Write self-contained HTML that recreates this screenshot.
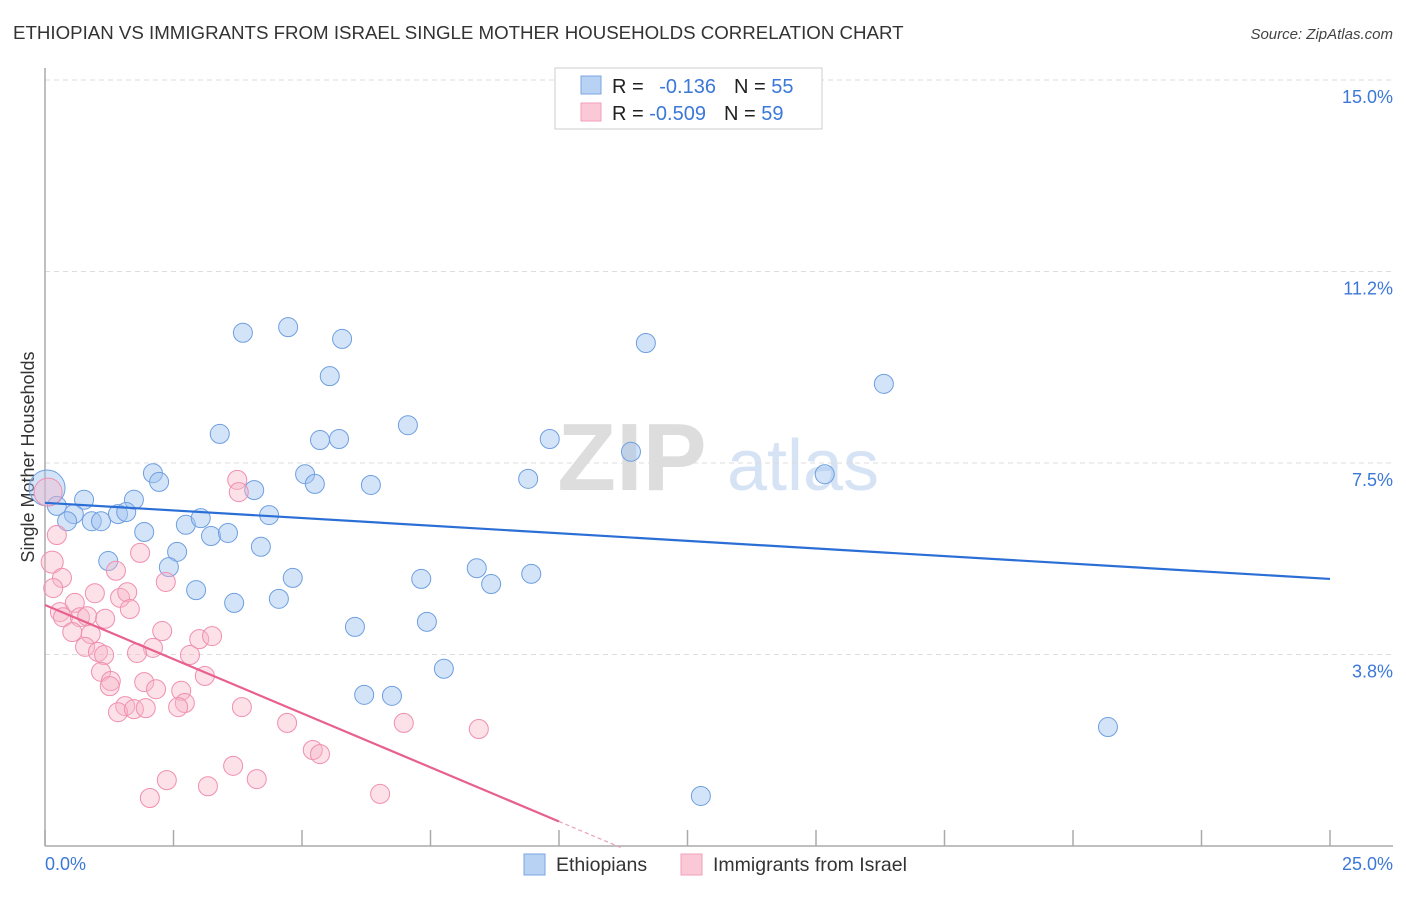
<!DOCTYPE html>
<html><head><meta charset="utf-8"><style>
body{margin:0;background:#fff;font-family:"Liberation Sans",sans-serif;}
svg text{font-family:"Liberation Sans",sans-serif;}
</style></head><body>
<svg id="chart" width="1406" height="892" viewBox="0 0 1406 892" xmlns="http://www.w3.org/2000/svg">
<text x="13" y="39" font-size="18.7" fill="#333">ETHIOPIAN VS IMMIGRANTS FROM ISRAEL SINGLE MOTHER HOUSEHOLDS CORRELATION CHART</text>
<text x="1393" y="39" font-size="15" fill="#444" font-style="italic" text-anchor="end">Source: ZipAtlas.com</text>
<g>
<text x="632" y="490" font-size="96" fill="#ddd" font-family="Liberation Serif" text-anchor="middle" font-weight="bold">ZIP</text>
<text x="803" y="490" font-size="72" fill="#d6e3f5" text-anchor="middle">atlas</text>
</g>
<g id="grid"></g>
<line x1="45" y1="68" x2="45" y2="846" stroke="#aaa" stroke-width="1.5"/>
<line x1="45" y1="846" x2="1393" y2="846" stroke="#aaa" stroke-width="1.5"/>
<g id="ticks"></g>
<text transform="translate(34,457) rotate(-90)" font-size="18" fill="#333" text-anchor="middle">Single Mother Households</text>
<text x="45" y="870" font-size="18" fill="#3b78d8">0.0%</text>
<text x="1393" y="870" font-size="18" fill="#3b78d8" text-anchor="end">25.0%</text>
<g id="pts"></g>
<g id="lines"></g>
<g>
<rect x="555" y="68" width="267" height="61" fill="#fff" stroke="#ccc"/>
<rect x="581" y="76" width="20" height="18" fill="#b8d2f4" stroke="#7aa6e2"/>
<rect x="581" y="103" width="20" height="18" fill="#fac8d6" stroke="#f0a0b8"/>
<text x="612" y="93" font-size="20" fill="#222">R = <tspan fill="#3b78d8" dx="10">-0.136</tspan><tspan dx="18" fill="#222">N = </tspan><tspan fill="#3b78d8">55</tspan></text>
<text x="612" y="120" font-size="20" fill="#222">R = <tspan fill="#3b78d8">-0.509</tspan><tspan dx="18" fill="#222">N = </tspan><tspan fill="#3b78d8">59</tspan></text>
</g>
<g>
<rect x="524" y="854" width="21" height="21" fill="#b8d2f4" stroke="#7aa6e2"/>
<text x="556" y="871" font-size="19.5" fill="#333">Ethiopians</text>
</g>
<g>
<rect x="681" y="854" width="21" height="21" fill="#fac8d6" stroke="#f0a0b8"/>
<text x="713" y="871" font-size="19.5" fill="#333">Immigrants from Israel</text>
</g>
</svg>
<script>
const yTicks=[3.75,7.5,11.25,15];
const yTickLabels=["3.8%","7.5%","11.2%","15.0%"];
const xTicks=[0,2.5,5,7.5,10,12.5,15,17.5,20,22.5,25];
const blueX=[3.85,4.73,5.78,11.69,5.54,16.32,3.40,7.06,5.35,5.72,9.82,11.40,2.10,5.06,2.22,5.25,6.34,9.40,15.17,4.07,0.76,1.73,0.04,0.23,0.56,0.43,0.91,1.09,1.42,1.58,4.36,2.74,3.03,1.93,3.23,3.56,4.20,2.57,1.23,2.41,4.82,7.32,8.40,8.68,9.46,2.94,3.68,4.55,7.43,6.03,7.76,6.21,6.75,20.68,12.76];
const blueY=[10.05,10.16,9.93,9.85,9.20,9.05,8.07,8.24,7.95,7.97,7.97,7.72,7.30,7.28,7.13,7.09,7.07,7.19,7.28,6.97,6.78,6.78,7.01,6.66,6.50,6.36,6.36,6.36,6.50,6.54,6.48,6.29,6.42,6.15,6.07,6.13,5.86,5.76,5.58,5.46,5.25,5.23,5.44,5.13,5.33,5.01,4.76,4.84,4.39,4.29,3.47,2.96,2.94,2.33,0.98];
const blueSize=[9.5,9.5,9.5,9.5,9.5,9.5,9.5,9.5,9.5,9.5,9.5,9.5,9.5,9.5,9.5,9.5,9.5,9.5,9.5,9.5,9.5,9.5,18,9.5,9.5,9.5,9.5,9.5,9.5,9.5,9.5,9.5,9.5,9.5,9.5,9.5,9.5,9.5,9.5,9.5,9.5,9.5,9.5,9.5,9.5,9.5,9.5,9.5,9.5,9.5,9.5,9.5,9.5,9.5,9.5];
const pinkX=[0.06,3.74,3.77,0.23,0.14,0.33,0.16,1.85,1.38,2.35,0.97,1.46,1.60,1.65,0.29,0.58,0.35,0.68,0.82,1.17,0.53,0.89,0.78,1.03,1.15,2.28,2.10,1.79,3.00,3.25,2.82,1.09,1.28,1.26,1.93,2.16,3.11,2.65,2.72,2.59,1.56,1.42,1.73,1.96,3.83,4.71,5.21,5.35,2.04,2.37,3.17,3.66,4.12,6.52,6.98,8.44];
const pinkY=[6.93,7.17,6.93,6.09,5.56,5.25,5.05,5.74,5.39,5.17,4.95,4.86,4.97,4.64,4.58,4.76,4.48,4.48,4.50,4.45,4.19,4.15,3.90,3.80,3.74,4.21,3.88,3.78,4.05,4.11,3.74,3.41,3.23,3.13,3.21,3.07,3.33,3.04,2.80,2.72,2.74,2.62,2.68,2.70,2.72,2.41,1.88,1.80,0.94,1.29,1.17,1.57,1.31,1.02,2.41,2.29];
const pinkSize=[14,9.5,9.5,9.5,11,9.5,9.5,9.5,9.5,9.5,9.5,9.5,9.5,9.5,9.5,9.5,9.5,9.5,9.5,9.5,9.5,9.5,9.5,9.5,9.5,9.5,9.5,9.5,9.5,9.5,9.5,9.5,9.5,9.5,9.5,9.5,9.5,9.5,9.5,9.5,9.5,9.5,9.5,9.5,9.5,9.5,9.5,9.5,9.5,9.5,9.5,9.5,9.5,9.5,9.5,9.5];
const blueFit=[6.72,-0.0596];
const pinkFit=[4.72,-0.424];
const pinkSolidEnd=10.0, pinkDashEnd=11.2;
const NS="http://www.w3.org/2000/svg";
const X=v=>45+v*(1285/25);
const Y=v=>846-v*(766/15);
function mk(t,a,p){const e=document.createElementNS(NS,t);for(const k in a)e.setAttribute(k,a[k]);p.appendChild(e);return e;}
const grid=document.getElementById('grid');
yTicks.forEach((t,i)=>{
  const l=mk('line',{x1:45,x2:1393,y1:Y(t),y2:Y(t),stroke:'#ddd','stroke-dasharray':'5,4'},grid);
  
  
  const tx=mk('text',{x:1393,y:Y(t)+23,'font-size':18,fill:'#3b78d8','text-anchor':'end'},grid);
  tx.textContent=yTickLabels[i];
  
  
});
const ticks=document.getElementById('ticks');
xTicks.forEach(t=>{
  const l=mk('line',{x1:X(t),x2:X(t),y1:830,y2:846,stroke:'#aaa','stroke-width':1.5},ticks);
  
  
});
const pts=document.getElementById('pts');
blueX.forEach((x,i)=>{
  const c=mk('circle',{cx:X(x),cy:Y(blueY[i]),r:blueSize[i],fill:'rgba(160,196,240,0.45)',stroke:'#6e9fe0','stroke-width':1},pts);
  
  
});
pinkX.forEach((x,i)=>{
  const c=mk('circle',{cx:X(x),cy:Y(pinkY[i]),r:pinkSize[i],fill:'rgba(248,180,200,0.4)',stroke:'#f08fb0','stroke-width':1},pts);
  
  
});
const lines=document.getElementById('lines');
const bl=mk('line',{x1:X(0),y1:Y(blueFit[0]),x2:X(25),y2:Y(blueFit[0]+blueFit[1]*25),stroke:'#2b6fd6','stroke-width':2.2},lines);


const pl=mk('line',{x1:X(0),y1:Y(pinkFit[0]),x2:X(pinkSolidEnd),y2:Y(pinkFit[0]+pinkFit[1]*pinkSolidEnd),stroke:'#e8608f','stroke-width':2.2},lines);


const pd=mk('line',{x1:X(pinkSolidEnd),y1:Y(pinkFit[0]+pinkFit[1]*pinkSolidEnd),x2:X(pinkDashEnd),y2:Y(pinkFit[0]+pinkFit[1]*pinkDashEnd),stroke:'#e8a0b8','stroke-width':1.2,'stroke-dasharray':'4,3'},lines);


</script>
</body></html>
